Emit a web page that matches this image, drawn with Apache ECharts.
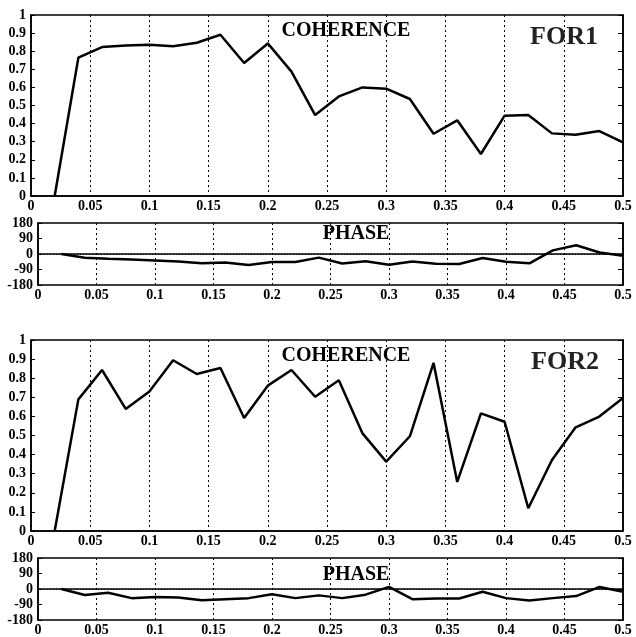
<!DOCTYPE html>
<html>
<head>
<meta charset="utf-8">
<title>Coherence / phase</title>
<script src="https://cdn.jsdelivr.net/npm/echarts@6/dist/echarts.min.js"></script>
<style>
  html, body { margin: 0; padding: 0; background: #fff; }
  #chart { width: 636px; height: 637px; }
</style>
</head>
<body>
<div id="chart"></div>
<script>
  // frequencies (0.02 .. 0.5)
  var freq = [0.02, 0.04, 0.06, 0.08, 0.10, 0.12, 0.14, 0.16, 0.18, 0.20, 0.22, 0.24, 0.26,
              0.28, 0.30, 0.32, 0.34, 0.36, 0.38, 0.40, 0.42, 0.44, 0.46, 0.48, 0.50];

  // FOR1
  var coh1 = [0, 0.764, 0.823, 0.832, 0.836, 0.827, 0.847, 0.891, 0.735, 0.843, 0.687, 0.447, 0.55,
              0.60, 0.593, 0.536, 0.344, 0.418, 0.232, 0.444, 0.447, 0.346, 0.339, 0.359, 0.296];
  var phase1 = [0, -22, -28, -32, -38, -44, -54, -50, -64, -46, -46, -21, -55,
                -42, -62, -43, -56, -58, -23, -45, -54, 21, 51, 9, -10];

  // FOR2
  var coh2 = [0, 0.689, 0.843, 0.639, 0.730, 0.894, 0.822, 0.853, 0.592, 0.761, 0.843, 0.703, 0.789,
              0.511, 0.363, 0.496, 0.880, 0.257, 0.616, 0.572, 0.119, 0.372, 0.543, 0.599, 0.696];
  var phase2 = [0, -35, -22, -53, -47, -49, -65, -59, -53, -31, -53, -37, -53,
                -33, 12, -59, -55, -55, -16, -53, -67, -53, -41, 12, -16];

  var font = { fontFamily: 'Liberation Serif', fontWeight: 'bold', color: '#000' };

  function pairs(vals) {
    return freq.map(function (f, i) { return [f, vals[i]]; });
  }

  function xAxis(grid) {
    return {
      type: 'value', gridIndex: grid, min: 0, max: 0.5, interval: 0.05,
      axisLine: { show: true, lineStyle: { color: '#000', width: 1.5 } },
      axisTick: { show: false },
      axisLabel: Object.assign({ fontSize: 14, margin: 3, formatter: function (v) { return String(+v.toFixed(2)); } }, font),
      splitLine: { show: true, lineStyle: { color: '#000', type: [2, 3], width: 1 } }
    };
  }

  function yAxis(grid, min, max, step) {
    return {
      type: 'value', gridIndex: grid, min: min, max: max, interval: step,
      axisLine: { show: true, lineStyle: { color: '#000', width: 1.5 } },
      axisTick: { show: true, inside: true, length: 4, lineStyle: { color: '#000' } },
      axisLabel: Object.assign({ fontSize: 14, margin: 5 }, font),
      splitLine: { show: false }
    };
  }

  function yRight(grid, min, max, step) {
    return {
      type: 'value', gridIndex: grid, min: min, max: max, interval: step, position: 'right',
      axisLine: { show: true, lineStyle: { color: '#000', width: 1.5 } },
      axisTick: { show: true, inside: true, length: 5, lineStyle: { color: '#000' } },
      axisLabel: { show: false },
      splitLine: { show: false }
    };
  }

  function line(xi, yi, vals, zero) {
    var s = {
      type: 'line', xAxisIndex: xi, yAxisIndex: yi, data: pairs(vals),
      showSymbol: false, symbol: 'none', animation: false,
      lineStyle: { color: '#000', width: 2.5 }
    };
    if (zero) {
      s.markLine = {
        silent: true, symbol: 'none', label: { show: false }, animation: false,
        lineStyle: { color: '#000', type: [1, 2], width: 1 },
        data: [{ yAxis: 0 }]
      };
    }
    return s;
  }

  function label(text, x, y, size, color) {
    return {
      type: 'text', x: x, y: y, z: 10,
      style: {
        text: text, fill: color || '#000', font: 'bold ' + size + 'px "Liberation Serif"',
        textAlign: 'center', textVerticalAlign: 'middle'
      }
    };
  }

  var gridBox = { show: true, borderColor: '#000', borderWidth: 1.5, backgroundColor: 'transparent' };

  var chart = echarts.init(document.getElementById('chart'));
  chart.setOption({
    animation: false,
    backgroundColor: '#fff',
    grid: [
      Object.assign({ left: 31, top: 15, width: 592, height: 181 }, gridBox),
      Object.assign({ left: 38, top: 223, width: 585, height: 62 }, gridBox),
      Object.assign({ left: 31, top: 340, width: 592, height: 191 }, gridBox),
      Object.assign({ left: 38, top: 558, width: 585, height: 66 }, gridBox)
    ],
    xAxis: [xAxis(0), xAxis(1), xAxis(2), xAxis(3)],
    yAxis: [
      yAxis(0, 0, 1, 0.1), yAxis(1, -180, 180, 90), yAxis(2, 0, 1, 0.1), yAxis(3, -180, 180, 90),
      yRight(0, 0, 1, 0.1), yRight(1, -180, 180, 90), yRight(2, 0, 1, 0.1), yRight(3, -180, 180, 90)
    ],
    graphic: [
      label('COHERENCE', 346, 31, 20),
      label('FOR1', 564, 37, 26, '#222'),
      label('PHASE', 356, 234, 20),
      label('COHERENCE', 346, 356, 20),
      label('FOR2', 565, 362, 26, '#222'),
      label('PHASE', 356, 575, 20)
    ],
    series: [
      line(0, 0, coh1, false),
      line(1, 1, phase1, true),
      line(2, 2, coh2, false),
      line(3, 3, phase2, true)
    ]
  });
</script>
</body>
</html>
